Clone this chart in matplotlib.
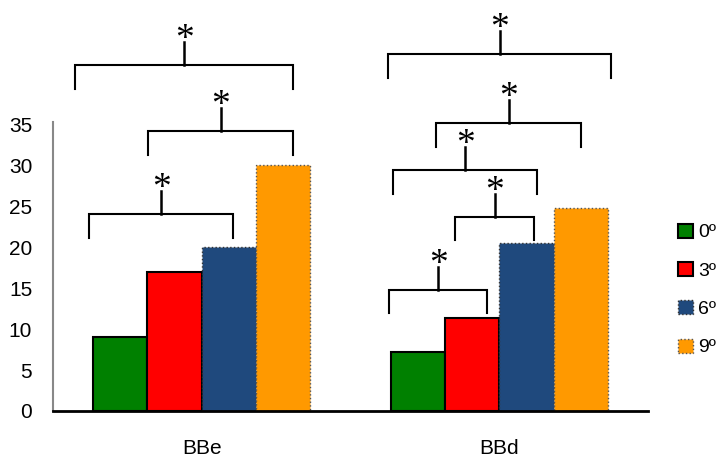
import matplotlib
matplotlib.use("Agg")
import matplotlib.pyplot as plt
from matplotlib.patches import Patch
import numpy as np

plt.rcParams['font.family'] = ['Liberation Sans', 'DejaVu Sans']

groups = ['BBe', 'BBd']
series = ['0º', '3º', '6º', '9º']
values = {
    '0º': [9.0, 7.2],
    '3º': [17.0, 11.3],
    '6º': [20.0, 20.5],
    '9º': [30.0, 24.7],
}
colors = ['#008000', '#FF0000', '#1F497D', '#FF9900']
edge_styles = [('black', '-', 1.5), ('black', '-', 1.5), ('#333333', ':', 1.0), ('#555555', ':', 1.0)]
yticks = [0, 5, 10, 15, 20, 25, 30, 35]

# significance brackets: (x_left, x_right, y_bar) in data units
brackets = [
    (-0.378, 0.106, 24.0),
    (-0.180, 0.308, 34.1),
    (-0.425, 0.308, 42.2),
    (0.627, 1.376, 43.5),
    (0.788, 1.276, 35.1),
    (0.644, 1.128, 29.4),
    (0.852, 1.118, 23.7),
    (0.630, 0.960, 14.8),
]

fig = plt.figure(figsize=(7.2, 4.58), dpi=100)
ax = fig.add_axes([53/720, 1-411/458, (648-53)/720, (411-124)/458])

x = np.arange(len(groups))
w = 0.1825
for i, s in enumerate(series):
    ec, ls, lw = edge_styles[i]
    ax.bar(x + (i - 1.5) * w, values[s], width=w, color=colors[i],
           edgecolor=ec, linestyle=ls, linewidth=lw, zorder=2)

ax.set_xlim(-0.5, 1.5)
ax.set_ylim(0, 35)
ax.set_yticks(yticks)
ax.set_xticks(x)
ax.set_xticklabels(groups)
ax.tick_params(axis='both', length=0, labelsize=15)
ax.tick_params(axis='y', pad=15)
ax.tick_params(axis='x', pad=20)
for sp in ['top', 'right']:
    ax.spines[sp].set_visible(False)
ax.spines['left'].set_color('#888888')
ax.spines['left'].set_linewidth(1.5)
ax.spines['bottom'].set_color('black')
ax.spines['bottom'].set_linewidth(2)
ax.spines['left'].set_bounds(0, 35.3)

leg_h = 2.9
stem_h = 2.8
for (x1, x2, yb) in brackets:
    xm = (x1 + x2) / 2
    ax.plot([x1, x1, x2, x2], [yb - leg_h, yb, yb, yb - leg_h], color='black',
            lw=1.5, clip_on=False, solid_joinstyle='miter', zorder=3)
    ax.plot([xm, xm], [yb, yb + stem_h], color='black', lw=1.8, clip_on=False, zorder=3)
    ax.annotate('*', xy=(xm, yb + stem_h), xytext=(0, -5), textcoords='offset points',
                ha='center', va='baseline', fontsize=27,
                family=['Liberation Serif', 'DejaVu Serif'], annotation_clip=False)

handles = []
for i, s in enumerate(series):
    ec, ls, lw = edge_styles[i]
    handles.append(Patch(facecolor=colors[i], edgecolor=ec, linestyle=ls, linewidth=lw, label=s))
fig.legend(handles=handles, loc='center left', bbox_to_anchor=(678/720, 1-290/458),
           frameon=False, fontsize=14, handlelength=0.75, handleheight=0.75,
           handletextpad=0.3, labelspacing=1.05, borderpad=0, borderaxespad=0)

fig.savefig('out.png', dpi=100)
